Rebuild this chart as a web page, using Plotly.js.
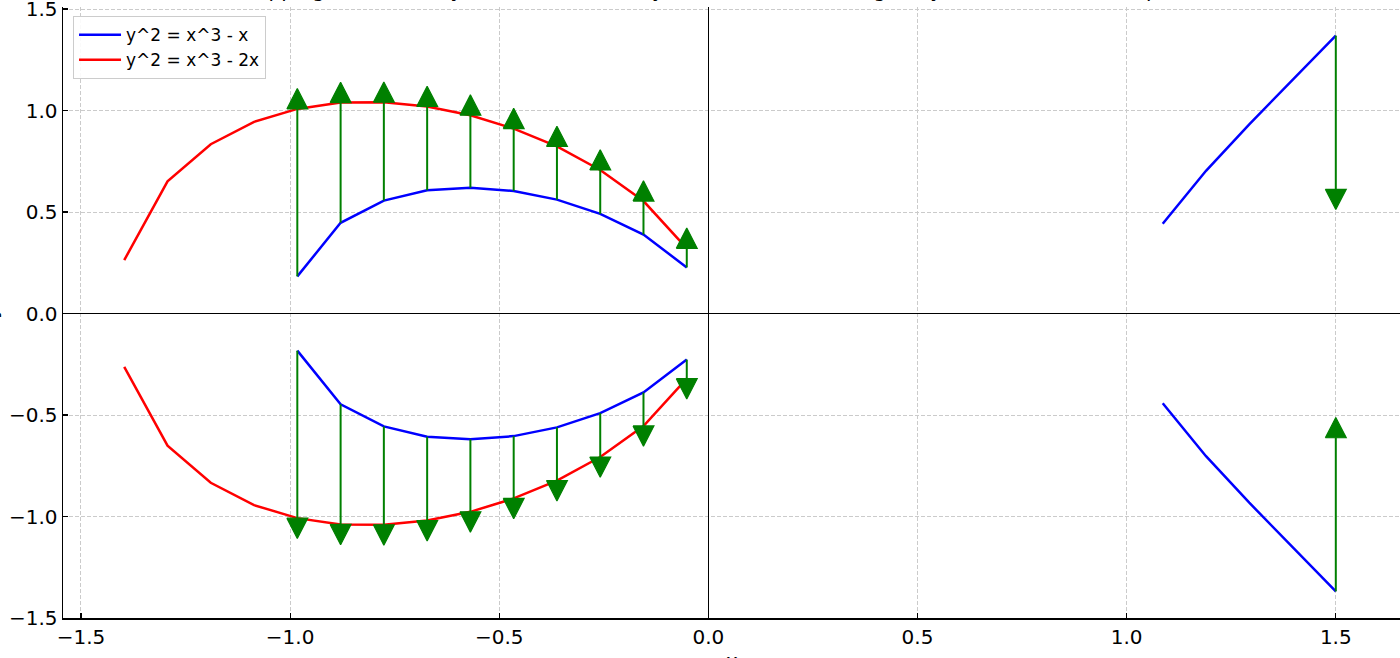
<!DOCTYPE html>
<html>
<head>
<meta charset="utf-8">
<script src="https://cdn.plot.ly/plotly-3.0.1.min.js"></script>
<style>html,body{margin:0;padding:0;background:#fff;}#chart{width:1400px;height:658px;}</style>
</head>
<body>
<div id="chart"></div>
<script>
// ---- data ----
const xBlue = [-0.9828, -0.8793, -0.7759, -0.6724, -0.5690, -0.4655, -0.3621, -0.2586, -0.1552, -0.0517, null, 1.0862, 1.1897, 1.2931, 1.3966, 1.5];
const yBlueUpper = [0.183, 0.447, 0.556, 0.607, 0.620, 0.604, 0.561, 0.491, 0.389, 0.227, null, 0.442, 0.703, 0.932, 1.152, 1.369];
const yBlueLower = [-0.183, -0.447, -0.556, -0.607, -0.620, -0.604, -0.561, -0.491, -0.389, -0.227, null, -0.442, -0.703, -0.932, -1.152, -1.369];

const xRed = [-1.3966, -1.2931, -1.1897, -1.0862, -0.9828, -0.8793, -0.7759, -0.6724, -0.5690, -0.4655, -0.3621, -0.2586, -0.1552, -0.0517];
const yRedUpper = [0.263, 0.651, 0.834, 0.944, 1.008, 1.039, 1.041, 1.020, 0.977, 0.911, 0.823, 0.707, 0.554, 0.321];
const yRedLower = [-0.263, -0.651, -0.834, -0.944, -1.008, -1.039, -1.041, -1.020, -0.977, -0.911, -0.823, -0.707, -0.554, -0.321];

// arrows: from first curve to second curve at shared x positions
const xArrow = [-0.9828, -0.8793, -0.7759, -0.6724, -0.5690, -0.4655, -0.3621, -0.2586, -0.1552, -0.0517, 1.5];
const arrowFromUpper = [0.183, 0.447, 0.556, 0.607, 0.620, 0.604, 0.561, 0.491, 0.389, 0.227, 1.369];
const arrowToUpper   = [1.008, 1.039, 1.041, 1.020, 0.977, 0.911, 0.823, 0.707, 0.554, 0.321, 0.612];
const arrowFromLower = [-0.183, -0.447, -0.556, -0.607, -0.620, -0.604, -0.561, -0.491, -0.389, -0.227, -1.369];
const arrowToLower   = [-1.008, -1.039, -1.041, -1.020, -0.977, -0.911, -0.823, -0.707, -0.554, -0.321, -0.612];

const seriesNames = ["y^2 = x^3 - x", "y^2 = x^3 - 2x"];
const tickVals = [-1.5, -1.0, -0.5, 0.0, 0.5, 1.0, 1.5];
const tickText = ["\u22121.5", "\u22121.0", "\u22120.5", "0.0", "0.5", "1.0", "1.5"];
const titleText = "Mapping Points from y^2 = x^3 - x onto y^2 = x^3 - 2x: Change of y Values at Each Sample Point";
const xLabel = "x";
const yLabel = "y";

// ---- styles ----
const HEAD_W = 0.05, HEAD_L = 0.1;
const GREEN = "#008000";

function shafts(xs, from, to) {
  const X = [], Y = [];
  xs.forEach((x, i) => { X.push(x, x, null); Y.push(from[i], to[i], null); });
  return {X, Y};
}
function heads(xs, from, to) {
  const X = [], Y = [];
  xs.forEach((x, i) => {
    const dir = Math.sign(to[i] - from[i]);
    const b = to[i], t = to[i] + dir * HEAD_L;
    X.push(x - HEAD_W / 2, x + HEAD_W / 2, x, x - HEAD_W / 2, null);
    Y.push(b, b, t, b, null);
  });
  return {X, Y};
}

const traces = [];
traces.push({x: xBlue, y: yBlueUpper, mode: "lines", name: seriesNames[0], line: {color: "#0000ff", width: 2.5}, connectgaps: false, legendrank: 1});
traces.push({x: xRed, y: yRedUpper, mode: "lines", name: seriesNames[1], line: {color: "#ff0000", width: 2.5}, legendrank: 2});
traces.push({x: xBlue, y: yBlueLower, mode: "lines", showlegend: false, line: {color: "#0000ff", width: 2.5}, connectgaps: false});
traces.push({x: xRed, y: yRedLower, mode: "lines", showlegend: false, line: {color: "#ff0000", width: 2.5}});

[[arrowFromUpper, arrowToUpper], [arrowFromLower, arrowToLower]].forEach(([f, t]) => {
  const s = shafts(xArrow, f, t);
  traces.push({x: s.X, y: s.Y, mode: "lines", showlegend: false, hoverinfo: "skip", line: {color: GREEN, width: 2}});
  const h = heads(xArrow, f, t);
  traces.push({x: h.X, y: h.Y, mode: "lines", fill: "toself", fillcolor: GREEN, showlegend: false, hoverinfo: "skip", line: {color: GREEN, width: 1.2}});
});

const FONT = "DejaVu Sans, Liberation Sans, sans-serif";
const layout = {
  width: 1400, height: 658,
  margin: {l: 63, r: 0, t: 7, b: 40, autoexpand: false},
  paper_bgcolor: "#ffffff", plot_bgcolor: "#ffffff",
  font: {family: FONT, color: "#000000", size: 20},
  showlegend: true,
  legend: {
    x: 0.0075, y: 0.985, xanchor: "left", yanchor: "top",
    bgcolor: "rgba(255,255,255,0.9)", bordercolor: "#cccccc", borderwidth: 1,
    font: {family: FONT, size: 17, color: "#000000"},
    itemwidth: 42, tracegroupgap: 0
  },
  xaxis: {
    range: [-1.543, 1.6535], tickvals: tickVals, ticktext: tickText,
    showgrid: true, gridcolor: "#cbcbcb", griddash: "4px,2px", gridwidth: 1,
    zeroline: true, zerolinecolor: "#000000", zerolinewidth: 1,
    showline: true, linecolor: "#000000", linewidth: 1.5, mirror: false,
    ticks: "inside", ticklen: 5, tickwidth: 1.2, tickcolor: "#000000",
    ticklabeloverflow: "allow",
    tickfont: {family: FONT, size: 20}, automargin: false
  },
  yaxis: {
    range: [-1.5, 1.51], tickvals: tickVals, ticktext: tickText,
    showgrid: true, gridcolor: "#cbcbcb", griddash: "4px,2px", gridwidth: 1,
    zeroline: true, zerolinecolor: "#000000", zerolinewidth: 1,
    showline: true, linecolor: "#000000", linewidth: 1.5, mirror: false,
    ticks: "inside", ticklen: 5, tickwidth: 1.2, tickcolor: "#000000",
    ticklabelstandoff: 0, ticklabeloverflow: "allow",
    tickfont: {family: FONT, size: 20}, automargin: false
  },
  annotations: [
    {text: titleText, xref: "x", x: 0.066, yref: "paper", y: 1, xanchor: "center", yanchor: "bottom",
     yshift: 2.5, showarrow: false, font: {family: FONT, size: 20, color: "#000000"}},
    {text: xLabel, xref: "paper", x: 0.5, yref: "paper", y: 0, xanchor: "center", yanchor: "top",
     yshift: -29, showarrow: false, font: {family: FONT, size: 20, color: "#000000"}},
    {text: yLabel, xref: "paper", x: 0, yref: "paper", y: 0.5, xanchor: "right", yanchor: "middle",
     xshift: -60, textangle: -90, showarrow: false, font: {family: FONT, size: 20, color: "#000000"}}
  ]
};

Plotly.newPlot("chart", traces, layout, {displayModeBar: false, staticPlot: true});
</script>
</body>
</html>
